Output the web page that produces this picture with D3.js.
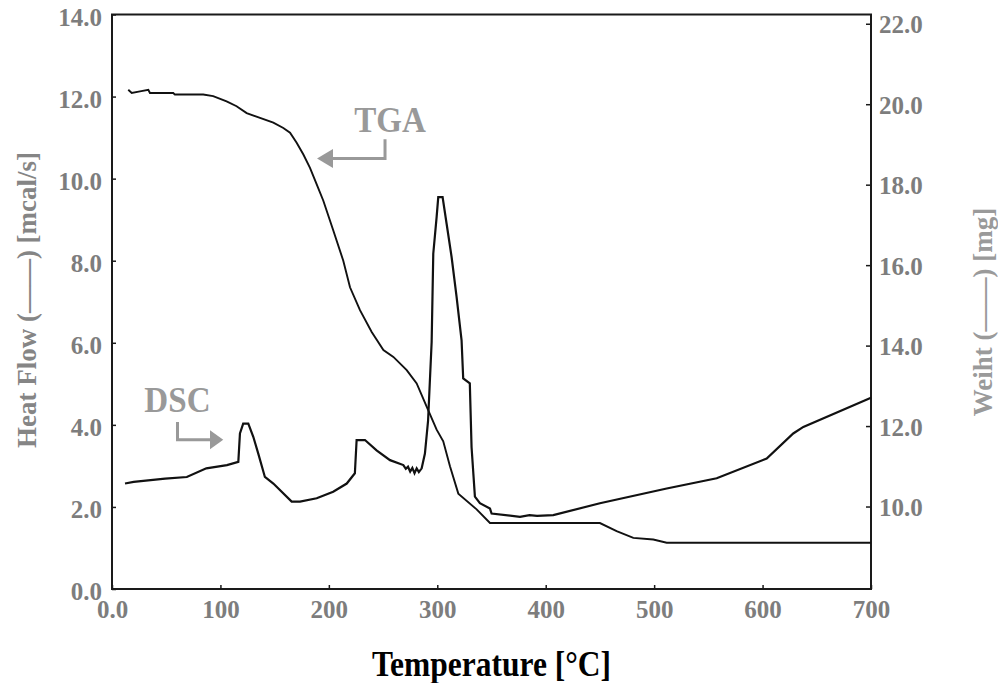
<!DOCTYPE html>
<html>
<head>
<meta charset="utf-8">
<script src="https://cdn.jsdelivr.net/npm/d3@7/dist/d3.min.js"></script>
<style>
  html, body { margin: 0; padding: 0; background: #fff; }
  svg { display: block; }
  text { font-family: "Liberation Serif", "Times New Roman", "DejaVu Serif", serif; font-weight: bold; }
</style>
</head>
<body>
<svg id="chart" width="998" height="683"></svg>
<script>
// ---------- DATA ----------
const dscTemp = [12, 20, 49, 69, 87, 106, 116.5, 118, 121, 125.7, 130.3, 134.9, 141, 148.8, 165.7, 173.4, 188.8, 204, 216.5, 224, 225.6, 233.3, 244, 256.4, 268.7, 271, 273, 275, 277, 279, 281, 283, 285.6, 288.6, 291.5, 294.8, 296.3, 299.4, 300.9, 304.9, 308.6, 313.2, 317.8, 322.4, 323.9, 330, 331.6, 334.7, 339.3, 348.6, 350.1, 376.3, 385, 392, 407, 450, 511.6, 557.7, 603.8, 628.3, 637.6, 700];
const dscHeat = [2.57, 2.61, 2.69, 2.73, 2.94, 3.02, 3.10, 3.79, 4.03, 4.03, 3.71, 3.30, 2.73, 2.57, 2.13, 2.13, 2.21, 2.37, 2.57, 2.82, 3.63, 3.63, 3.38, 3.14, 3.02, 2.93, 2.98, 2.86, 2.95, 2.82, 2.94, 2.85, 2.94, 3.30, 4.10, 6.02, 8.17, 9.07, 9.55, 9.55, 8.90, 8.09, 7.12, 6.06, 5.13, 5.01, 3.46, 2.25, 2.09, 1.96, 1.84, 1.76, 1.80, 1.78, 1.80, 2.09, 2.45, 2.70, 3.18, 3.79, 3.95, 4.66];

const tgaTemp = [15, 18.2, 25.8, 33.5, 35, 56.5, 58, 84.1, 93.3, 105.7, 114.9, 124.2, 136.5, 148.8, 158, 164.2, 170.3, 176.5, 182.6, 188.8, 194.9, 204.1, 213.3, 219.5, 228.7, 239.5, 250.3, 259.5, 271.8, 281, 290.3, 299.4, 305.5, 311.7, 319.4, 336.3, 348.6, 450, 465.4, 480.8, 499.2, 511.6, 700];
const tgaWeight = [20.36, 20.28, 20.32, 20.36, 20.28, 20.28, 20.24, 20.24, 20.20, 20.07, 19.95, 19.78, 19.66, 19.54, 19.41, 19.29, 19.04, 18.75, 18.42, 18.01, 17.60, 16.86, 16.11, 15.45, 14.88, 14.34, 13.89, 13.72, 13.39, 13.06, 12.48, 11.91, 11.62, 11.00, 10.32, 9.93, 9.59, 9.59, 9.39, 9.22, 9.18, 9.10, 9.10];

const xTicks = [0, 100, 200, 300, 400, 500, 600, 700];
const xTickLabels = ["0.0", "100", "200", "300", "400", "500", "600", "700"];
const heatTicks = [0, 2, 4, 6, 8, 10, 12, 14];
const heatTickLabels = ["0.0", "2.0", "4.0", "6.0", "8.0", "10.0", "12.0", "14.0"];
const weightTicks = [10, 12, 14, 16, 18, 20, 22];
const weightTickLabels = ["10.0", "12.0", "14.0", "16.0", "18.0", "20.0", "22.0"];

// annotations (data units: temperature, heat flow)
const tgaLabel = { text: "TGA", t: 256.4, v: 11.13 };
const tgaArrow = [[251.8, 10.96], [251.8, 10.49], [203.8, 10.49]];
const tgaArrowTip = [189.1, 10.49];
const dscLabel = { text: "DSC", t: 60.4, v: 4.31 };
const dscArrow = [[60.4, 4.07], [60.4, 3.64], [90.4, 3.64]];
const dscArrowTip = [102.6, 3.64];

// ---------- LAYOUT ----------
const svg = d3.select("#chart");
const L = 112, R = 871, T = 14.5, B = 589;

const x = d3.scaleLinear().domain([0, 700]).range([L, R]);
const yHeat = d3.scaleLinear().domain([0, 14]).range([B, T]);
const yWeight = d3.scaleLinear().domain([7.95, 22.23]).range([B, T]);

const tickColor = "#7d7d7d";
const tickFont = "25px";

// frame
svg.append("rect")
  .attr("x", L).attr("y", T).attr("width", R - L).attr("height", B - T)
  .attr("fill", "none").attr("stroke", "#1a1a1a").attr("stroke-width", 2);

// x axis
const gx = svg.append("g").attr("transform", `translate(0,${B})`)
  .call(d3.axisBottom(x).tickValues(xTicks).tickFormat((d, i) => xTickLabels[i])
    .tickSizeInner(-4).tickSizeOuter(0).tickPadding(11));
gx.select(".domain").remove();
gx.selectAll("line").attr("stroke", "#1a1a1a").attr("stroke-width", 1.5);
gx.selectAll("text").attr("fill", tickColor).style("font-size", tickFont);

// left axis
const gl = svg.append("g").attr("transform", `translate(${L},0)`)
  .call(d3.axisLeft(yHeat).tickValues(heatTicks).tickFormat((d, i) => heatTickLabels[i])
    .tickSizeInner(-4).tickSizeOuter(0).tickPadding(10));
gl.select(".domain").remove();
gl.selectAll("line").attr("stroke", "#1a1a1a").attr("stroke-width", 1.5);
gl.selectAll("text").attr("fill", tickColor).style("font-size", tickFont).attr("dy", "0.42em");

// right axis
const gr = svg.append("g").attr("transform", `translate(${R},0)`)
  .call(d3.axisRight(yWeight).tickValues(weightTicks).tickFormat((d, i) => weightTickLabels[i])
    .tickSizeInner(-5).tickSizeOuter(0).tickPadding(8));
gr.select(".domain").remove();
gr.selectAll("line").attr("stroke", "#1a1a1a").attr("stroke-width", 1.5);
gr.selectAll("text").attr("fill", tickColor).style("font-size", tickFont).attr("dy", "0.36em");

// curves
const dscLine = d3.line().x(d => x(d[0])).y(d => yHeat(d[1]));
const tgaLine = d3.line().x(d => x(d[0])).y(d => yWeight(d[1]));

svg.append("path")
  .datum(dscTemp.map((t, i) => [t, dscHeat[i]]))
  .attr("d", dscLine).attr("fill", "none").attr("stroke", "#111").attr("stroke-width", 2.2)
  .attr("stroke-linejoin", "miter");

svg.append("path")
  .datum(tgaTemp.map((t, i) => [t, tgaWeight[i]]))
  .attr("d", tgaLine).attr("fill", "none").attr("stroke", "#111").attr("stroke-width", 1.9);

// annotations
const annColor = "#999999";
function annotate(label, pts, tip) {
  svg.append("text")
    .attr("transform", `translate(${x(label.t)},${yHeat(label.v)}) scale(0.92,1)`)
    .attr("text-anchor", "middle")
    .attr("fill", annColor).style("font-size", "36px")
    .text(label.text);
  svg.append("path")
    .attr("d", d3.line()(pts.map(p => [x(p[0]), yHeat(p[1])])))
    .attr("fill", "none").attr("stroke", annColor).attr("stroke-width", 3);
  const bx = x(pts[pts.length - 1][0]), by = yHeat(pts[pts.length - 1][1]);
  const tx = x(tip[0]), ty = yHeat(tip[1]);
  svg.append("path")
    .attr("d", `M${tx},${ty} L${bx},${by - 9.5} L${bx},${by + 9.5} Z`)
    .attr("fill", annColor);
}
annotate(tgaLabel, tgaArrow, tgaArrowTip);
annotate(dscLabel, dscArrow, dscArrowTip);

// axis titles
svg.append("text")
  .attr("transform", `translate(${(L + R) / 2},676) scale(0.9,1)`)
  .attr("text-anchor", "middle").attr("fill", "#000").style("font-size", "35px")
  .text("Temperature [°C]");

svg.append("text")
  .attr("transform", `translate(36,300) rotate(-90)`)
  .attr("text-anchor", "middle").attr("fill", "#858585").style("font-size", "27px")
  .text("Heat Flow (——) [mcal/s]");

svg.append("text")
  .attr("transform", `translate(992,312) rotate(-90)`)
  .attr("text-anchor", "middle").attr("fill", "#9a9a9a").style("font-size", "27px")
  .text("Weiht (——) [mg]");
</script>
</body>
</html>
